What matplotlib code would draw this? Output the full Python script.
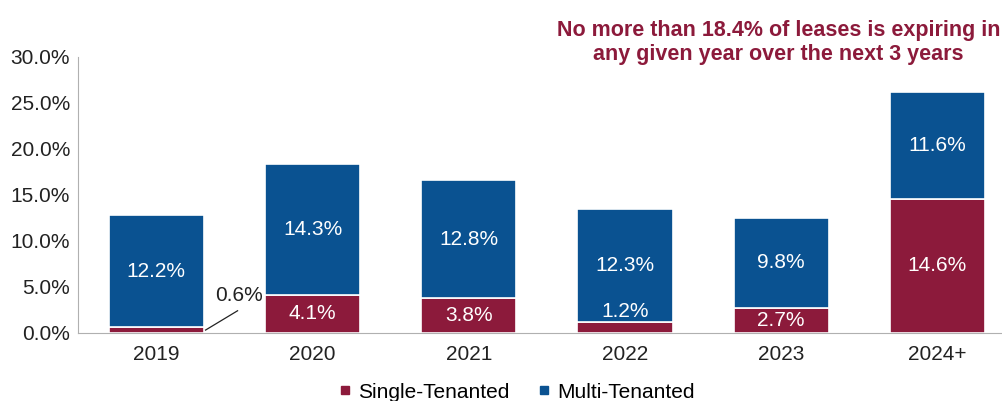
import numpy as np
import matplotlib.pyplot as plt
from matplotlib.lines import Line2D

plt.rcParams['font.family'] = ['Liberation Sans', 'DejaVu Sans']

years = ["2019", "2020", "2021", "2022", "2023", "2024+"]
single = [0.6, 4.1, 3.8, 1.2, 2.7, 14.6]
multi = [12.2, 14.3, 12.8, 12.3, 9.8, 11.6]

red = "#8c1a3b"
blue = "#0a5291"
txt = "#222222"
fs = 15

fig = plt.figure(figsize=(10.03, 4.01), dpi=100)
ax = fig.add_axes([0.078, 0.17, 0.922, 0.688])

x = np.arange(len(years))
w = 0.61
ax.bar(x, single, w, color=red, edgecolor="white", linewidth=1.2)
ax.bar(x, multi, w, bottom=single, color=blue, edgecolor="white", linewidth=1.2)

# value labels
for i in range(len(years)):
    s, m = single[i], multi[i]
    ax.text(x[i], s + m / 2, f"{m:.1f}%", ha="center", va="center", color="white", fontsize=fs)
    if s >= 2.5:
        ax.text(x[i], s / 2, f"{s:.1f}%", ha="center", va="center", color="white", fontsize=fs)
    elif s >= 1:
        ax.text(x[i], s + 1.1, f"{s:.1f}%", ha="center", va="center", color="white", fontsize=fs)
    else:
        # small value: label outside with leader line
        ax.plot([x[i] + w / 2 + 0.01, x[i] + 0.52], [s / 2, 2.4], color=txt, lw=0.9)
        ax.text(x[i] + 0.53, 4.1, f"{s:.1f}%", ha="center", va="center", color=txt, fontsize=fs)

ax.set_xlim(-0.5, 5.42)
ax.set_ylim(0, 30)
yt = np.arange(0, 31, 5)
ax.set_yticks(yt)
ax.set_yticklabels([f"{v:.1f}%" for v in yt], fontsize=fs, color=txt)
ax.set_xticks(x)
ax.set_xticklabels(years, fontsize=fs, color=txt)
ax.tick_params(axis="y", length=0, pad=6)
ax.tick_params(axis="x", length=0, pad=9)
for sp in ["top", "right"]:
    ax.spines[sp].set_visible(False)
for sp in ["left", "bottom"]:
    ax.spines[sp].set_color("#b0b0b0")

fig.text(0.776, 0.894, "No more than 18.4% of leases is expiring in\nany given year over the next 3 years",
         ha="center", va="center", color=red, fontsize=15.5, fontweight="bold", linespacing=1.15)

handles = [Line2D([], [], marker="s", linestyle="", color=red, markersize=6),
           Line2D([], [], marker="s", linestyle="", color=blue, markersize=6)]
fig.legend(handles, ["Single-Tenanted", "Multi-Tenanted"], loc="center", bbox_to_anchor=(0.513, 0.022),
           ncol=2, frameon=False, fontsize=15, handletextpad=0.1, columnspacing=1.2, handlelength=1)

fig.savefig("out.png", dpi=100)
